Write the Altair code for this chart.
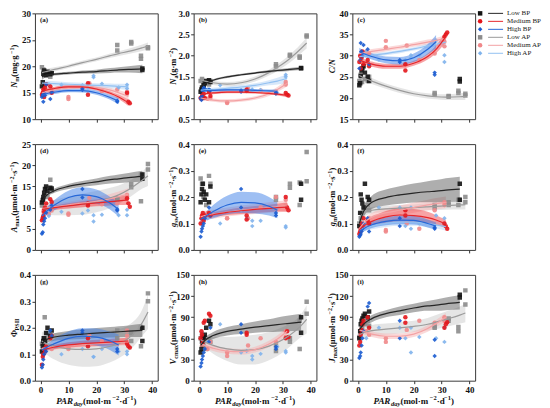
import altair as alt
import pandas as pd

FONT = "Liberation Serif"
W, H = 123, 106
XDOM = [-2, 42]
XTICKS = [0, 10, 20, 30, 40]

GROUPS = ["Low BP", "Medium BP", "High BP", "Low AP", "Medium AP", "High AP"]
DRAW_ORDER = ["Low AP", "Medium AP", "High AP", "Low BP", "Medium BP", "High BP"]
POINT_COLORS = ["#141414", "#e3161c", "#1a5bd0", "#8c8c8c", "#f0888a", "#7fb3ec"]
LINE_COLORS = ["#262626", "#e5262b", "#2768d8", "#9b9b9b", "#f3a2a4", "#93c1f1"]
BAND_COLORS = ["#5e5e5e", "#f2484c", "#3d7fe8", "#cbcbcb", "#f7b3b4", "#b2d2f5"]
SHAPES = ["square", "circle", "diamond", "square", "circle", "diamond"]
SIZES = [20, 20, 26, 14, 14, 18]

# PAR_day of the sampled sites, per group
X_LOW_BP = [0.5, 0.8, 1.0, 1.3, 1.6, 2.0, 2.5, 3.5, 4.0, 36.5, 36.5]
X_MED_BP = [0.5, 0.8, 1.0, 1.3, 1.6, 2.0, 3.5, 4.0, 17.0, 17.0, 31.0, 31.5, 32.0]
X_HIGH_BP = [0.5, 0.8, 1.0, 1.3, 1.6, 2.0, 3.5, 4.0, 15.0, 15.0, 27.5, 27.5]
X_LOW_AP = [0.5, 1.0, 1.5, 2.5, 3.5, 4.0, 27.5, 27.5, 32.5, 32.5, 36.0, 36.0, 38.5, 38.5]
X_MED_AP = [1.0, 3.0, 4.0, 10.0, 10.0, 17.5, 22.0, 27.5, 31.0, 31.0]
X_HIGH_AP = [1.0, 3.0, 7.5, 15.0, 17.0, 19.0, 19.0, 22.0, 28.0, 31.0, 31.0]
X_SITES = {"Low BP": X_LOW_BP, "Medium BP": X_MED_BP, "High BP": X_HIGH_BP,
           "Low AP": X_LOW_AP, "Medium AP": X_MED_AP, "High AP": X_HIGH_AP}

# x positions at which the fitted curves were read
FIT_X = [0.5, 2, 5, 10, 15, 20, 25, 28, 31.5, 36.5, 38.5]

# ---------- (a) N_m ----------
PTS_NM = {
    "Low BP": [16.2, 17.0, 18.6, 19.2, 16.6, 18.3, 18.9, 18.5, 18.7, 19.3, 19.6],
    "Medium BP": [14.6, 15.0, 15.6, 14.2, 16.0, 16.6, 16.2, 15.0, 14.6, 16.8, 15.0, 13.3, 13.0],
    "High BP": [14.2, 14.6, 13.3, 15.0, 14.5, 16.6, 13.8, 15.1, 15.5, 15.8, 13.3, 13.5],
    "Low AP": [19.8, 19.4, 18.4, 19.0, 18.0, 18.7, 24.0, 23.0, 24.6, 24.3, 22.0, 21.4, 23.6, 23.4],
    "Medium AP": [15.0, 15.4, 15.6, 14.2, 13.8, 16.8, 15.3, 15.6, 14.8, 15.2],
    "High AP": [16.0, 16.6, 16.5, 16.4, 16.0, 18.2, 17.9, 16.7, 16.0, 16.5, 15.8],
}
FIT_NM = {
    "Low BP": [18.0, 18.3, 18.5, 18.7, 18.9, 19.0, 19.2, 19.3, 19.4, 19.5],
    "Medium BP": [15.2, 15.5, 15.8, 16.1, 16.1, 15.7, 14.9, 14.2, 13.1],
    "High BP": [14.5, 14.8, 15.1, 15.4, 15.4, 15.0, 14.1, 13.4],
    "Low AP": [18.8, 19.0, 19.4, 20.0, 20.7, 21.3, 22.0, 22.4, 22.8, 23.5, 23.8],
    "Medium AP": [15.0, 15.2, 15.6, 16.0, 16.2, 16.0, 15.5, 15.0, 14.3],
    "High AP": [16.8, 16.8, 16.7, 16.6, 16.5, 16.4, 16.3, 16.2, 16.1],
}
BAND_NM = {
    "Low BP": [0.6, 0.35, 0.25, 0.25, 0.3, 0.35, 0.45, 0.5, 0.6, 0.8],
    "Medium BP": [0.5, 0.4, 0.35, 0.3, 0.3, 0.3, 0.35, 0.4, 0.6],
    "High BP": [0.5, 0.4, 0.35, 0.3, 0.35, 0.4, 0.45, 0.6],
    "Low AP": [0.6, 0.5, 0.4, 0.35, 0.35, 0.35, 0.4, 0.45, 0.5, 0.6, 0.7],
    "Medium AP": [0.6, 0.5, 0.45, 0.4, 0.4, 0.4, 0.45, 0.5, 0.6],
    "High AP": [0.6, 0.5, 0.45, 0.4, 0.4, 0.4, 0.45, 0.5, 0.6],
}

# ---------- (b) N_a ----------
PTS_NA = {
    "Low BP": [1.15, 1.20, 1.25, 1.22, 1.30, 1.35, 1.40, 1.42, 1.38, 1.70, 1.71],
    "Medium BP": [1.00, 0.98, 1.05, 1.02, 1.10, 1.00, 1.15, 1.05, 1.20, 1.17, 1.12, 1.08, 1.06],
    "High BP": [1.00, 0.95, 1.05, 1.20, 1.25, 1.22, 1.20, 1.18, 1.15, 1.18, 1.13, 1.10],
    "Low AP": [1.40, 1.45, 1.30, 1.35, 1.32, 1.40, 1.80, 1.75, 2.02, 2.00, 1.98, 1.95, 2.48, 2.45],
    "Medium AP": [1.05, 0.98, 1.00, 0.88, 0.90, 1.22, 1.18, 1.15, 1.38, 1.32],
    "High AP": [1.10, 1.20, 1.30, 1.17, 1.16, 1.18, 1.20, 1.19, 1.12, 1.55, 1.50],
}
FIT_NA = {
    "Low BP": [1.25, 1.33, 1.42, 1.50, 1.55, 1.59, 1.63, 1.65, 1.67, 1.70],
    "Medium BP": [1.08, 1.10, 1.12, 1.14, 1.14, 1.13, 1.11, 1.09, 1.06],
    "High BP": [1.16, 1.17, 1.18, 1.19, 1.19, 1.18, 1.17, 1.16],
    "Low AP": [1.43, 1.40, 1.36, 1.33, 1.36, 1.45, 1.60, 1.72, 1.88, 2.17, 2.30],
    "Medium AP": [1.00, 0.98, 0.95, 0.93, 0.95, 1.00, 1.10, 1.20, 1.35],
    "High AP": [1.18, 1.19, 1.20, 1.23, 1.26, 1.30, 1.36, 1.40, 1.46],
}
BAND_NA = {
    "Low BP": [0.05, 0.03, 0.025, 0.025, 0.025, 0.025, 0.03, 0.03, 0.035, 0.04],
    "Medium BP": [0.04, 0.03, 0.03, 0.03, 0.03, 0.03, 0.03, 0.03, 0.04],
    "High BP": [0.04, 0.03, 0.03, 0.03, 0.03, 0.03, 0.03, 0.04],
    "Low AP": [0.08, 0.06, 0.05, 0.05, 0.05, 0.06, 0.07, 0.08, 0.09, 0.11, 0.13],
    "Medium AP": [0.05, 0.04, 0.04, 0.04, 0.04, 0.04, 0.05, 0.06, 0.08],
    "High AP": [0.05, 0.04, 0.04, 0.04, 0.05, 0.05, 0.06, 0.08, 0.10],
}

# ---------- (c) C/N ----------
PTS_CN = {
    "Low BP": [23.0, 23.5, 25.2, 26.5, 27.0, 27.5, 26.0, 25.0, 24.0, 23.9, 24.5],
    "Medium BP": [28.5, 30.0, 27.0, 29.5, 31.0, 28.0, 29.0, 27.5, 28.0, 26.5, 34.5, 35.0, 35.5],
    "High BP": [27.0, 29.0, 33.0, 31.0, 30.0, 32.5, 31.5, 28.0, 29.0, 28.5, 26.0, 25.5],
    "Low AP": [24.0, 25.5, 23.8, 24.5, 24.0, 25.0, 20.8, 21.2, 20.5, 20.3, 21.7, 21.2, 21.0, 20.6],
    "Medium AP": [30.0, 31.0, 30.5, 33.5, 32.0, 32.4, 29.0, 30.5, 33.3, 32.2],
    "High AP": [30.5, 31.0, 29.1, 28.5, 29.0, 30.1, 29.5, 30.1, 33.6, 30.1, 28.5],
}
FIT_CN = {
    "Medium BP": [29.0, 28.6, 28.0, 27.5, 27.5, 28.2, 29.8, 31.5, 34.5],
    "High BP": [31.0, 30.5, 29.8, 29.0, 28.8, 29.5, 31.5, 33.3],
    "Low AP": [25.3, 24.8, 24.0, 22.8, 21.8, 21.0, 20.5, 20.3, 20.2, 20.3, 20.4],
    "Medium AP": [30.5, 30.7, 31.0, 31.5, 32.0, 32.6, 33.2, 33.6, 34.1],
    "High AP": [29.8, 29.9, 30.1, 30.5, 31.0, 31.6, 32.3, 32.7, 33.2],
}
BAND_CN = {
    "Medium BP": [0.9, 0.7, 0.6, 0.6, 0.6, 0.6, 0.7, 0.9, 1.3],
    "High BP": [0.9, 0.7, 0.7, 0.8, 0.9, 1.0, 1.2, 1.6],
    "Low AP": [1.0, 0.8, 0.7, 0.6, 0.6, 0.6, 0.6, 0.6, 0.7, 0.8, 0.9],
    "Medium AP": [0.7, 0.6, 0.6, 0.5, 0.5, 0.5, 0.6, 0.6, 0.8],
    "High AP": [0.6, 0.5, 0.5, 0.4, 0.4, 0.4, 0.5, 0.5, 0.7],
}

# ---------- (d) A_max ----------
PTS_AMAX = {
    "Low BP": [11.2, 11.8, 12.5, 13.5, 14.4, 15.0, 14.0, 14.7, 14.5, 17.8, 16.8],
    "Medium BP": [7.0, 7.6, 8.0, 9.0, 10.0, 11.0, 12.0, 11.3, 10.5, 11.0, 12.2, 11.0, 10.2],
    "High BP": [3.8, 4.2, 6.0, 6.8, 7.5, 8.8, 9.5, 10.5, 14.4, 12.4, 9.3, 9.6],
    "Low AP": [10.5, 12.0, 13.0, 12.5, 16.6, 14.0, 12.2, 11.8, 15.5, 14.8, 11.5, 17.8, 20.3, 19.0],
    "Medium AP": [9.0, 8.5, 9.3, 8.6, 8.3, 12.3, 10.8, 11.0, 13.0, 12.6],
    "High AP": [7.0, 8.0, 9.0, 8.6, 9.3, 6.7, 8.2, 8.3, 8.2, 9.5, 8.2],
}
FIT_AMAX = {
    "Low BP": [11.5, 12.8, 14.0, 15.0, 15.6, 16.1, 16.6, 16.8, 17.1, 17.4],
    "Medium BP": [9.6, 9.7, 10.0, 10.4, 10.8, 11.1, 11.4, 11.6, 11.8],
    "High BP": [8.0, 9.0, 10.6, 12.4, 13.0, 12.6, 11.0, 9.5],
    "Low AP": [9.5, 9.7, 10.0, 10.4, 10.8, 11.4, 12.3, 13.0, 14.2, 16.5, 17.5],
    "Medium AP": [9.8, 9.9, 10.2, 10.6, 11.0, 11.5, 12.1, 12.6, 13.2],
}
BAND_AMAX = {
    "Low BP": [0.6, 0.5, 0.5, 0.6, 0.7, 0.8, 0.9, 1.0, 1.1, 1.3],
    "Medium BP": [0.5, 0.45, 0.5, 0.6, 0.7, 0.8, 0.9, 1.0, 1.1],
    "High BP": [0.8, 0.9, 1.2, 1.6, 1.8, 1.7, 1.5, 1.6],
    "Low AP": [1.2, 1.4, 1.8, 2.2, 2.5, 2.5, 2.4, 2.2, 2.0, 2.0, 2.4],
    "Medium AP": [0.9, 0.8, 0.8, 0.8, 0.9, 1.0, 1.1, 1.2, 1.4],
}

# ---------- (e) g_sw ----------
PTS_GSW = {
    "Low BP": [0.18, 0.21, 0.23, 0.25, 0.22, 0.19, 0.21, 0.18, 0.24, 0.19, 0.25],
    "Medium BP": [0.10, 0.12, 0.13, 0.14, 0.11, 0.13, 0.14, 0.13, 0.13, 0.115, 0.20, 0.16, 0.15],
    "High BP": [0.05, 0.07, 0.08, 0.09, 0.10, 0.12, 0.16, 0.13, 0.23, 0.16, 0.13, 0.14],
    "Low AP": [0.27, 0.25, 0.20, 0.17, 0.28, 0.25, 0.20, 0.19, 0.25, 0.235, 0.17, 0.255, 0.37, 0.26],
    "Medium AP": [0.12, 0.14, 0.13, 0.12, 0.12, 0.12, 0.16, 0.20, 0.19, 0.17],
    "High AP": [0.10, 0.12, 0.10, 0.15, 0.12, 0.09, 0.11, 0.11, 0.16, 0.09, 0.085],
}
FIT_GSW = {
    "Medium BP": [0.118, 0.125, 0.133, 0.142, 0.148, 0.153, 0.157, 0.160, 0.162],
    "High BP": [0.115, 0.125, 0.145, 0.170, 0.180, 0.178, 0.165, 0.150],
    "Medium AP": [0.125, 0.130, 0.135, 0.143, 0.150, 0.155, 0.160, 0.163, 0.166],
}
BAND_GSW = {
    "Medium BP": [0.010, 0.009, 0.009, 0.010, 0.012, 0.013, 0.014, 0.015, 0.017],
    "High BP": [0.012, 0.015, 0.025, 0.035, 0.040, 0.040, 0.035, 0.030],
    "Medium AP": [0.020, 0.018, 0.017, 0.017, 0.018, 0.019, 0.020, 0.021, 0.023],
}

# ---------- (f) g_m ----------
PTS_GM = {
    "Low BP": [0.09, 0.14, 0.21, 0.19, 0.175, 0.16, 0.25, 0.20, 0.19, 0.25, 0.19],
    "Medium BP": [0.06, 0.07, 0.08, 0.10, 0.09, 0.12, 0.11, 0.10, 0.15, 0.13, 0.10, 0.09, 0.08],
    "High BP": [0.05, 0.055, 0.06, 0.07, 0.08, 0.10, 0.12, 0.07, 0.12, 0.09, 0.08, 0.085],
    "Low AP": [0.10, 0.12, 0.14, 0.16, 0.17, 0.15, 0.17, 0.16, 0.18, 0.17, 0.19, 0.17, 0.20, 0.18],
    "Medium AP": [0.08, 0.10, 0.12, 0.07, 0.075, 0.10, 0.08, 0.15, 0.18, 0.17],
    "High AP": [0.07, 0.10, 0.16, 0.16, 0.09, 0.08, 0.16, 0.10, 0.13, 0.12, 0.10],
}
FIT_GM = {
    "Low BP": [0.10, 0.145, 0.18, 0.198, 0.208, 0.215, 0.22, 0.222, 0.226, 0.23],
    "Medium BP": [0.075, 0.09, 0.108, 0.125, 0.132, 0.13, 0.122, 0.113, 0.098],
    "High BP": [0.07, 0.08, 0.095, 0.108, 0.113, 0.112, 0.10, 0.09],
    "Low AP": [0.12, 0.14, 0.15, 0.155, 0.158, 0.16, 0.163, 0.165, 0.167, 0.17, 0.171],
    "Medium AP": [0.08, 0.10, 0.125, 0.14, 0.15, 0.16, 0.17, 0.175, 0.18],
    "High AP": [0.075, 0.082, 0.09, 0.10, 0.105, 0.105, 0.10, 0.095, 0.088],
}
BAND_GM = {
    "Low BP": [0.02, 0.02, 0.025, 0.03, 0.033, 0.036, 0.04, 0.042, 0.045, 0.047],
    "Medium BP": [0.01, 0.012, 0.015, 0.022, 0.025, 0.025, 0.022, 0.018, 0.016],
    "High BP": [0.008, 0.01, 0.012, 0.015, 0.016, 0.016, 0.015, 0.014],
    "Low AP": [0.02, 0.015, 0.012, 0.012, 0.012, 0.012, 0.013, 0.014, 0.015, 0.017, 0.018],
    "Medium AP": [0.015, 0.015, 0.015, 0.017, 0.018, 0.019, 0.02, 0.021, 0.022],
    "High AP": [0.012, 0.012, 0.012, 0.013, 0.014, 0.014, 0.014, 0.014, 0.015],
}

# ---------- (g) Phi_PSII ----------
PTS_PSII = {
    "Low BP": [0.11, 0.13, 0.15, 0.16, 0.15, 0.18, 0.20, 0.17, 0.19, 0.15, 0.20],
    "Medium BP": [0.06, 0.09, 0.10, 0.12, 0.11, 0.13, 0.16, 0.17, 0.13, 0.16, 0.14, 0.13, 0.125],
    "High BP": [0.05, 0.06, 0.08, 0.10, 0.12, 0.11, 0.19, 0.17, 0.19, 0.18, 0.12, 0.11],
    "Low AP": [0.14, 0.16, 0.24, 0.18, 0.17, 0.13, 0.19, 0.16, 0.18, 0.15, 0.13, 0.20, 0.33, 0.30],
    "Medium AP": [0.10, 0.13, 0.12, 0.125, 0.12, 0.17, 0.15, 0.14, 0.19, 0.17],
    "High AP": [0.10, 0.18, 0.10, 0.12, 0.13, 0.09, 0.09, 0.12, 0.11, 0.10, 0.11],
}
FIT_PSII = {
    "Low BP": [0.14, 0.155, 0.165, 0.172, 0.176, 0.18, 0.183, 0.185, 0.187, 0.19],
    "Medium BP": [0.115, 0.12, 0.127, 0.135, 0.14, 0.143, 0.146, 0.148, 0.15],
    "High BP": [0.115, 0.125, 0.14, 0.16, 0.168, 0.165, 0.15, 0.135],
    "Low AP": [0.15, 0.14, 0.13, 0.12, 0.118, 0.12, 0.13, 0.14, 0.16, 0.22, 0.26],
    "Medium AP": [0.122, 0.124, 0.128, 0.133, 0.137, 0.14, 0.143, 0.145, 0.147],
}
BAND_PSII = {
    "Low BP": [0.015, 0.014, 0.014, 0.016, 0.018, 0.019, 0.02, 0.021, 0.022, 0.025],
    "Medium BP": [0.008, 0.007, 0.008, 0.01, 0.011, 0.012, 0.012, 0.012, 0.013],
    "High BP": [0.01, 0.012, 0.018, 0.026, 0.03, 0.032, 0.035, 0.04],
    "Low AP": [0.035, 0.04, 0.05, 0.06, 0.065, 0.065, 0.06, 0.055, 0.05, 0.05, 0.065],
    "Medium AP": [0.012, 0.011, 0.011, 0.011, 0.012, 0.012, 0.013, 0.013, 0.014],
}

# ---------- (h) V_cmax ----------
PTS_VCMAX = {
    "Low BP": [40, 45, 55, 60, 62, 65, 75, 85, 80, 90, 68],
    "Medium BP": [60, 70, 65, 55, 82, 85, 95, 92, 65, 68, 60, 70, 62],
    "High BP": [20, 25, 30, 35, 40, 45, 55, 75, 80, 68, 48, 45],
    "Low AP": [60, 65, 50, 45, 58, 55, 42, 50, 55, 60, 45, 85, 95, 112],
    "Medium AP": [50, 45, 55, 40, 35, 50, 60, 55, 70, 62],
    "High AP": [60, 55, 80, 40, 42, 30, 35, 38, 48, 42, 40],
}
FIT_VCMAX = {
    "Low BP": [50, 57, 64, 70, 73, 76, 78, 79.5, 81, 83],
    "Low AP": [58, 55, 50, 45, 43, 44, 49, 54, 62, 78, 87],
    "Medium AP": [53, 50, 46, 42, 41, 44, 52, 59, 70],
}
BAND_VCMAX = {
    "Low BP": [4, 4, 5, 6, 7, 8, 9, 10, 11, 12],
    "Low AP": [6, 8, 12, 17, 20, 21, 20, 19, 17, 16, 20],
    "Medium AP": [5, 4.5, 4, 4, 4, 4, 4.5, 5, 6],
}

# ---------- (i) J_max ----------
PTS_JMAX = {
    "Low BP": [60, 70, 80, 85, 88, 92, 95, 90, 98, 122, 118],
    "Medium BP": [50, 55, 65, 72, 80, 85, 90, 75, 90, 82, 75, 80, 83],
    "High BP": [32, 35, 40, 50, 60, 70, 105, 110, 85, 60, 58, 35],
    "Low AP": [62, 70, 75, 80, 85, 78, 77, 75, 85, 88, 76, 70, 128, 108],
    "Medium AP": [72, 70, 65, 60, 55, 72, 85, 82, 90, 85],
    "High AP": [65, 60, 75, 75, 60, 40, 75, 62, 60, 55, 75],
}
FIT_JMAX = {
    "Low BP": [72, 80, 88, 95, 99, 103, 106, 107, 109, 111],
    "Low AP": [65, 68, 71, 73, 75, 77, 80, 83, 87, 93, 96],
    "Medium AP": [72, 70, 66, 63, 63, 66, 74, 81, 90],
}
BAND_JMAX = {
    "Low BP": [4, 4, 5, 5, 6, 6, 7, 8, 9, 10],
    "Low AP": [8, 8, 8, 8, 8, 8, 9, 10, 11, 12, 13],
    "Medium AP": [5, 4.5, 4, 4, 4, 4, 4.5, 5, 6],
}

# ---------- axis titles (rich text segments) ----------
UNIT_MOL = [(" (mol·m", "n"), ("−2", "sup"), ("·s", "n"), ("−1", "sup"), (")", "n")]
UNIT_UMOL = [(" (μmol·m", "n"), ("−2", "sup"), ("·s", "n"), ("−1", "sup"), (")", "n")]
T_NM = [("N", "i"), ("m", "sub"), (" (mg·g", "n"), ("−1", "sup"), (")", "n")]
T_NA = [("N", "i"), ("a", "sub"), (" (g·m", "n"), ("−2", "sup"), (")", "n")]
T_CN = [("C/N", "i")]
T_AMAX = [("A", "i"), ("max", "sub")] + UNIT_UMOL
T_GSW = [("g", "i"), ("sw", "sub")] + UNIT_MOL
T_GM = [("g", "i"), ("m", "sub")] + UNIT_MOL
T_PSII = [("Φ", "n"), ("PSII", "sub")]
T_VCMAX = [("V", "i"), ("cmax", "sub")] + UNIT_UMOL
T_JMAX = [("J", "i"), ("max", "sub")] + UNIT_UMOL
T_X = [("PAR", "i"), ("day", "subi"), (" (mol·m", "n"), ("−2", "sup"), ("·d", "n"), ("−1", "sup"), (")", "n")]

BOLD_W = {' ': .25, '(': .333, ')': .333, '·': .25, '/': .278, '−': .57, 'μ': .556, 'Φ': .778,
          'a': .5, 'c': .444, 'd': .556, 'g': .5, 'i': .278, 'l': .278, 'm': .833, 'o': .5,
          's': .389, 'w': .722, 'x': .5, 'y': .5, 'A': .722, 'C': .722, 'I': .389, 'J': .5,
          'N': .722, 'P': .611, 'R': .722, 'S': .556, 'V': .722}
ITAL_W = {'A': .667, 'C': .667, 'J': .5, 'N': .722, 'P': .611, 'R': .667, 'V': .667,
          'g': .5, '/': .278, 'd': .5, 'a': .5, 'y': .444}

ONE = pd.DataFrame({"k": [0]})


def rich(segs, x0, y0, angle, size):
    items = []
    for text, kind in segs:
        small = kind in ("sub", "sup", "subi")
        fs = round(size * 0.72, 2) if small else size
        italic = kind in ("i", "subi")
        table = ITAL_W if italic else BOLD_W
        w = sum(table.get(ch, BOLD_W.get(ch, 0.5)) for ch in text) * fs
        dy = 2.0 if kind in ("sub", "subi") else (-3.2 if kind == "sup" else 0)
        items.append((text, fs, italic, w, dy))
    total = sum(it[3] for it in items)
    off = -total / 2
    out = []
    for text, fs, italic, w, dy in items:
        kw = dict(text=text, align="left", baseline="alphabetic", font=FONT, fontSize=fs,
                  fontWeight="bold", dx=off, angle=angle, color="#111")
        if dy:
            kw["dy"] = dy
        if italic:
            kw["fontStyle"] = "italic"
        out.append(alt.Chart(ONE).mark_text(**kw).encode(x=alt.value(x0), y=alt.value(y0)))
        off += w
    return out


def points_table(pts):
    rows = []
    for g in DRAW_ORDER:
        if g in pts:
            for xv, yv in zip(X_SITES[g], pts[g]):
                rows.append({"group": g, "x": xv, "y": yv})
    return pd.DataFrame(rows)


def fit_table(fit, band):
    rows = []
    for g in DRAW_ORDER:
        if g in fit:
            for xv, yv, w in zip(FIT_X, fit[g], band[g]):
                rows.append({"group": g, "x": xv, "y": yv, "lo": yv - w, "hi": yv + w})
    return pd.DataFrame(rows)


def gscale(rng):
    return alt.Scale(domain=GROUPS, range=rng)


def panel(label, pts, fit, band, dom, ticks, fmt, title, bottom):
    xax = alt.Axis(values=XTICKS, labels=bottom, format="d", title=None)
    yax = alt.Axis(values=ticks, format=fmt, title=None, minExtent=17, maxExtent=17)
    xs = alt.Scale(domain=XDOM, nice=False, zero=False)
    ys = alt.Scale(domain=dom, nice=False, zero=False)
    X = alt.X("x:Q", scale=xs, axis=xax)
    pdf = points_table(pts)
    fdf = fit_table(fit, band)
    bands = alt.Chart(fdf).mark_area(opacity=0.5, interpolate="monotone", clip=True).encode(
        x=X, y=alt.Y("lo:Q", scale=ys, axis=yax), y2="hi:Q",
        color=alt.Color("group:N", scale=gscale(BAND_COLORS), legend=None))
    dots = alt.Chart(pdf).mark_point(filled=True, opacity=0.9, clip=True).encode(
        x=X, y=alt.Y("y:Q", scale=ys, axis=yax),
        color=alt.Color("group:N", scale=gscale(POINT_COLORS), legend=None),
        shape=alt.Shape("group:N", scale=gscale(SHAPES), legend=None),
        size=alt.Size("group:O", scale=gscale(SIZES), legend=None))
    lines = alt.Chart(fdf).mark_line(strokeWidth=1.2, interpolate="monotone", clip=True).encode(
        x=X, y=alt.Y("y:Q", scale=ys, axis=yax),
        color=alt.Color("group:N", scale=gscale(LINE_COLORS), legend=None))
    lab = alt.Chart(ONE).mark_text(text=f"({label})", align="left", baseline="alphabetic",
                                   fontSize=7, fontWeight="bold", font=FONT, color="#111").encode(
        x=alt.value(5), y=alt.value(9))
    layers = [bands, dots, lines, lab] + rich(title, -17.5, H / 2, 270, 8.5)
    if bottom:
        layers += rich(T_X, W / 2, H + 23, 0, 9)
    return alt.layer(*layers).resolve_scale(color="independent").properties(width=W, height=H)


def legend_chart():
    df = pd.DataFrame({"group": GROUPS, "rank": list(range(len(GROUPS)))})
    ysc = alt.Y("rank:Q", axis=None, scale=alt.Scale(domain=[0, 5], range=[0, 40]))
    sym = alt.Chart(df).mark_point(filled=True, opacity=1).encode(
        x=alt.value(-31), y=ysc,
        color=alt.Color("group:N", scale=gscale(POINT_COLORS), legend=None),
        shape=alt.Shape("group:N", scale=gscale(SHAPES), legend=None),
        size=alt.Size("group:O", scale=gscale(SIZES), legend=None))
    rule = alt.Chart(df).mark_rule(strokeWidth=1).encode(
        x=alt.value(-23), x2=alt.value(-8), y=ysc,
        color=alt.Color("group:N", scale=gscale(LINE_COLORS), legend=None))
    txt = alt.Chart(df).mark_text(align="left", baseline="middle", font=FONT, fontSize=7,
                                  color="#222").encode(x=alt.value(-4), y=ysc, text="group:N")
    return alt.layer(sym, rule, txt).resolve_scale(color="independent").properties(
        width=30, height=H, view=alt.ViewBackground(stroke="transparent"))


T5 = [0, 5, 10, 15, 20, 25]
T04 = [0.0, 0.1, 0.2, 0.3, 0.4]
T150 = [0, 30, 60, 90, 120, 150]

pa = panel("a", PTS_NM, FIT_NM, BAND_NM, [10, 30], [10, 15, 20, 25, 30], "d", T_NM, False)
pb = panel("b", PTS_NA, FIT_NA, BAND_NA, [0.5, 3.0], [0.5, 1.0, 1.5, 2.0, 2.5, 3.0], ".1f", T_NA, False)
pc = panel("c", PTS_CN, FIT_CN, BAND_CN, [15, 40], [15, 20, 25, 30, 35, 40], "d", T_CN, False)
pd_ = panel("d", PTS_AMAX, FIT_AMAX, BAND_AMAX, [0, 25], T5, "d", T_AMAX, False)
pe = panel("e", PTS_GSW, FIT_GSW, BAND_GSW, [0, 0.4], T04, ".1f", T_GSW, False)
pf = panel("f", PTS_GM, FIT_GM, BAND_GM, [0, 0.4], T04, ".1f", T_GM, False)
pg = panel("g", PTS_PSII, FIT_PSII, BAND_PSII, [0, 0.4], T04, ".1f", T_PSII, True)
ph = panel("h", PTS_VCMAX, FIT_VCMAX, BAND_VCMAX, [0, 150], T150, "d", T_VCMAX, True)
pi = panel("i", PTS_JMAX, FIT_JMAX, BAND_JMAX, [0, 150], T150, "d", T_JMAX, True)

HS = 36
row1 = alt.hconcat(pa, pb, pc, legend_chart(), spacing=HS, bounds="flush")
row2 = alt.hconcat(pd_, pe, pf, spacing=HS, bounds="flush")
row3 = alt.hconcat(pg, ph, pi, spacing=HS, bounds="flush")

chart = alt.vconcat(row1, row2, row3, spacing=14).properties(
    padding=0, background="white"
).configure(font=FONT).configure_axis(
    labelFont=FONT, labelFontWeight="bold", labelFontSize=9, labelColor="#111",
    tickColor="#333", tickSize=3, labelPadding=1.5, domain=False, grid=False
).configure_view(stroke="#3a3a3a", strokeWidth=1)

chart.save("out.html", embed_options={"renderer": "svg", "actions": False})
